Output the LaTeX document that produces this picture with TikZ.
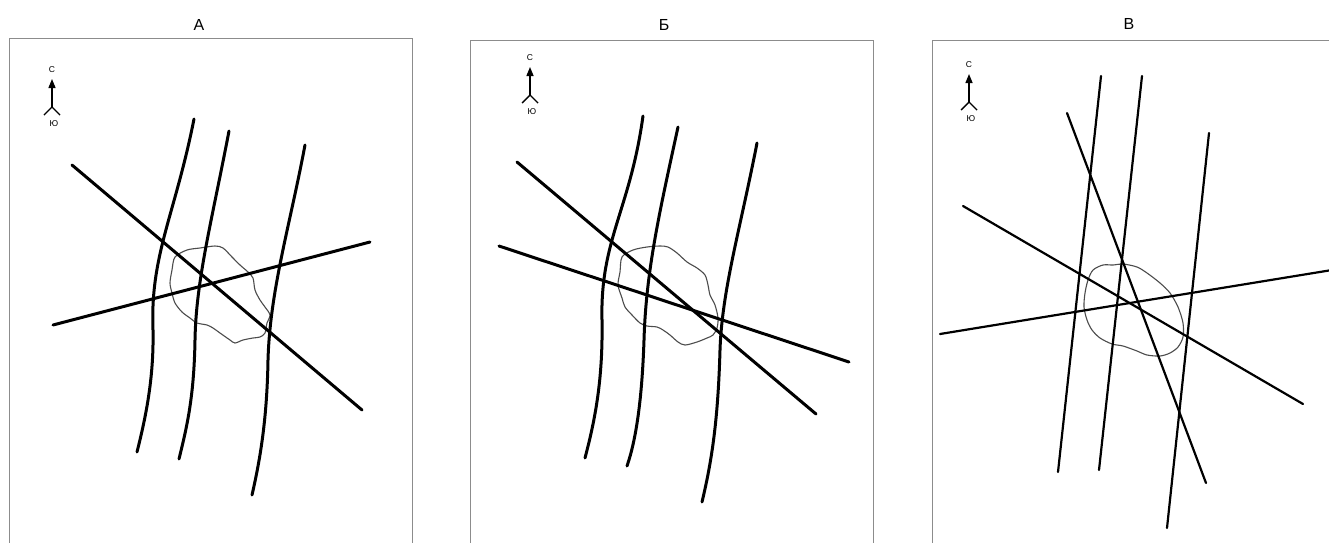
\documentclass[tikz,border=0pt]{standalone}
\usepackage{fontspec}
\setmainfont{Liberation Sans}
\usetikzlibrary{arrows.meta}
\tikzset{
  frame/.style={draw=black!45, line width=1pt},
  fault/.style={draw=black, line width=3pt, line cap=round, line join=round},
  faultthin/.style={draw=black, line width=2.2pt, line cap=round},
  blob/.style={draw=black!70, line width=1.1pt, line join=round},
  title/.style={font=\fontsize{16}{16}\selectfont, inner sep=0pt},
  compl/.style={font=\fontsize{8.5}{8.5}\selectfont, inner sep=0pt},
  compline/.style={draw=black, line width=1.4pt}
}
\newcommand{\compass}[3]{% x, ytip, name prefix
  \node[compl] (#3c) at (#1,#2-9) {С};
  \draw[compline,-{Triangle[length=9pt,width=7pt]}] (#1,#2+28) -- (#1,#2);
  \draw[compline] (#1-8,#2+36) -- (#1,#2+28) -- (#1+8,#2+36);
  \node[compl] (#3u) at (#1+2,#2+45) {Ю};
}
\begin{document}
\begin{tikzpicture}[x=1pt,y=-1pt]
\useasboundingbox (0,0) rectangle (1329,542);
\fill[white] (0,0) rectangle (1329,542);
% frames
\draw[frame] (9,545) -- (9,38) -- (412,38) -- (412,545);
\draw[frame] (470,545) -- (470,40) -- (873,40) -- (873,545);
\draw[frame] (932,545) -- (932,40) -- (1335,40);
% titles
\node[title] (tA) at (199,25) {А};
\node[title] (tB) at (664,25) {Б};
\node[title] (tC) at (1129,24) {В};
% compasses
\compass{52}{79}{a}
\compass{530}{67}{b}
\compass{969}{74}{c}

% ---------- Panel A ----------
\draw[blob] plot[smooth cycle, tension=0.5] coordinates {
 (175,257) (187,250) (200,248) (215,246) (223,248) (232,257) (240,265)
 (248,272) (253,278) (255,290) (260,300) (265,307) (270,315) (267,323)
 (265,333) (260,337) (253,338) (243,340) (235,343) (230,340) (220,333)
 (213,328) (207,325) (197,323) (190,318) (182,312) (175,303) (172,293)
 (170,283) (172,270)};
\draw[fault] (194,119) .. controls (175,215) and (150,255) .. (153,330) .. controls (154,380) and (145,420) .. (137,452);
\draw[fault] (229,131) .. controls (212,220) and (196,280) .. (195,340) .. controls (194,400) and (186,430) .. (179,459);
\draw[fault] (305,145) .. controls (290,225) and (270,290) .. (268,360) .. controls (267,420) and (260,460) .. (252,495);
\draw[fault] (72,165) -- (362,410);
\draw[fault] (53,325) -- (370,242);

% ---------- Panel B ----------
\draw[blob] plot[smooth cycle, tension=0.5] coordinates {
 (622,257) (633,250) (647,247) (660,246) (668,247) (677,253) (687,262)
 (697,268) (705,275) (708,285) (710,295) (715,305) (718,318) (717,328)
 (713,335) (707,338) (697,342) (685,345) (678,342) (670,335) (663,330)
 (657,327) (647,326) (640,323) (632,315) (625,307) (622,298) (618,285)
 (620,272)};
\draw[fault] (643,116) .. controls (630,210) and (600,240) .. (602,320) .. controls (603,380) and (595,420) .. (585,458);
\draw[fault] (678,127) .. controls (660,210) and (646,270) .. (644,340) .. controls (642,400) and (636,440) .. (627,466);
\draw[fault] (757,143) .. controls (740,230) and (722,290) .. (720,350) .. controls (718,420) and (712,460) .. (702,502);
\draw[fault] (517,162) -- (816,414);
\draw[fault] (499,246) -- (849,362);

% ---------- Panel C ----------
\draw[blob] plot[smooth cycle, tension=0.5] coordinates {
 (1093,270) (1103,265) (1113,265) (1123,264) (1137,267) (1147,273) (1160,283)
 (1170,293) (1178,307) (1183,323) (1183,337) (1178,347) (1170,353) (1160,356)
 (1147,355) (1137,351) (1123,346) (1112,344) (1100,338) (1092,330) (1087,320)
 (1084,307) (1085,293) (1088,280)};
\draw[faultthin] (1101,76) -- (1058,472);
\draw[faultthin] (1142,76) -- (1099,470);
\draw[faultthin] (1209,133) -- (1167,528);
\draw[faultthin] (1067,113) -- (1206,483);
\draw[faultthin] (963,206) -- (1303,404);
\draw[faultthin] (940,334) -- (1332,270);
\end{tikzpicture}
\end{document}
